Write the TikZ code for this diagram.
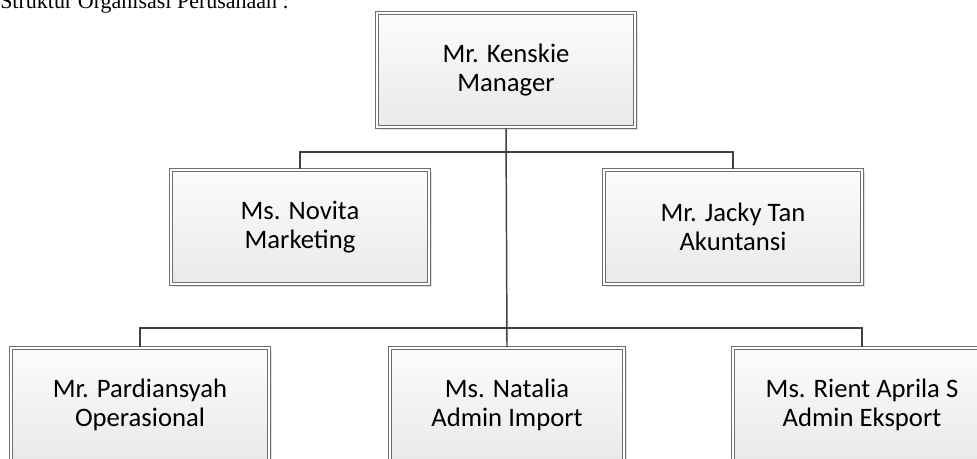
\documentclass[tikz,border=0pt]{standalone}
\usepackage{fontspec}
\setmainfont{Carlito}
\newfontfamily\captionfont{Liberation Serif}
\usepackage{tikz}
\usetikzlibrary{positioning, shadows, calc}
\definecolor{LineGray}{HTML}{404040}
\definecolor{BoxEdge}{HTML}{6E6E6E}
\definecolor{BoxTop}{HTML}{FCFCFC}
\definecolor{BoxBottom}{HTML}{E9E9E9}
\tikzset{
  % Box styles
  orgbox/.style={rectangle, draw=BoxEdge, line width=0.75pt, double=white, double distance=1.5pt, top color=BoxTop, bottom color=BoxBottom, minimum width=194pt, minimum height=86pt, font=\fontsize{20}{22}\selectfont, align=center, text=black, drop shadow={shadow xshift=2pt, shadow yshift=-2pt, fill=black!40, opacity=0.3}},
  % Connector styles
  orgline/.style={draw=LineGray, line width=1.1pt}
}
\begin{document}
\begin{tikzpicture}[x=0.75pt, y=-0.75pt]
  \useasboundingbox (0,0) rectangle (977,459);
  % Caption
  \node[anchor=base west, inner sep=0pt, font=\captionfont\fontsize{16.5}{18}\selectfont] (caption) at (0,9) {Struktur Organisasi Perusahaan :};

  % Top level
  \node[orgbox] (manager) at (506,70) {Mr. Kenskie\\Manager};

  % Second level
  \node[orgbox] (novita) at (300,227) {Ms. Novita\\Marketing};
  \node[orgbox, right=130pt of novita] (jacky) {Mr. Jacky Tan\\Akuntansi};

  % Third level
  \node[orgbox] (pardiansyah) at (140,405) {Mr. Pardiansyah\\Operasional};
  \node[orgbox, minimum width=176pt] (natalia) at (507,405) {Ms. Natalia\\Admin Import};
  \node[orgbox] (rient) at (862,405) {Ms. Rient Aprila S\\Admin Eksport};

  % Connectors
  \coordinate (bus1) at (506,152);
  \coordinate (bus2) at (506,328);
  \draw[orgline] (manager.south) -- (natalia.north);
  \draw[orgline] (novita.north) |- (bus1) -| (jacky.north);
  \draw[orgline] (pardiansyah.north) |- (bus2) -| (rient.north);
\end{tikzpicture}
\end{document}
